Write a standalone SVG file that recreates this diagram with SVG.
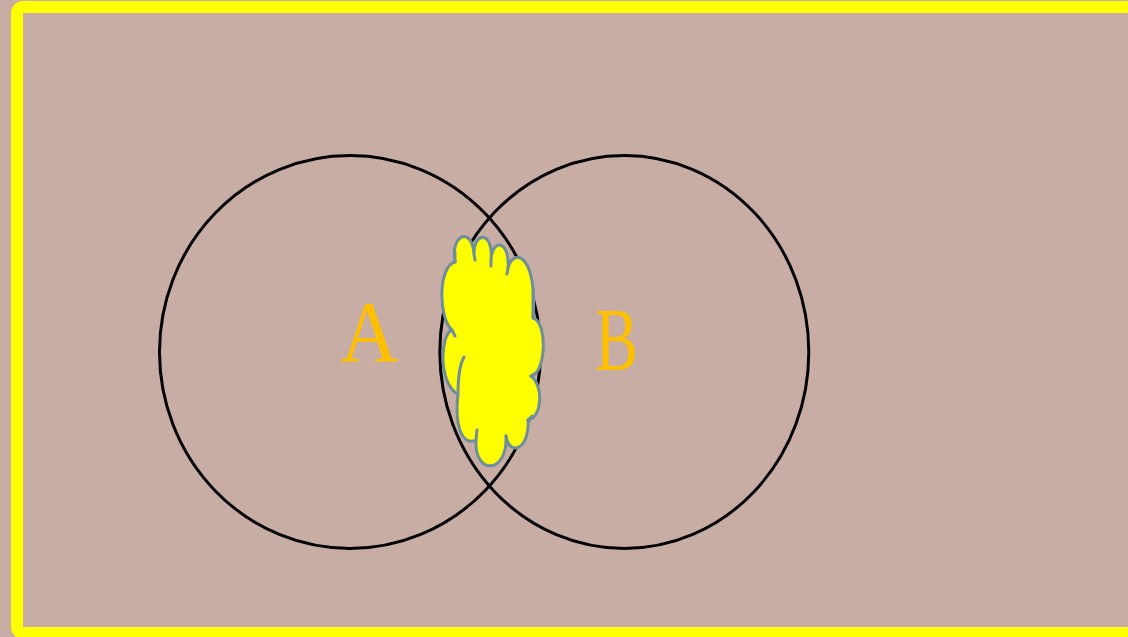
<svg xmlns="http://www.w3.org/2000/svg" width="1128" height="637" viewBox="0 0 1128 637">
<style>
.set{fill:none;stroke:#000;stroke-width:3}
.lbl{font-family:"Liberation Serif","Times New Roman",serif;fill:#ffc000;text-anchor:middle}
.cloud{fill:#ffff00;stroke:#6f8e9b;stroke-width:3;stroke-linejoin:round}
.tick{fill:none;stroke:#6f8e9b;stroke-width:3;stroke-linecap:round}
</style>
<rect x="0" y="0" width="1128" height="637" fill="#c8ada4"/>
<rect id="frame" x="17" y="7" width="1120" height="626" rx="6" fill="#c8ada4" stroke="#ffff00" stroke-width="12"/>
<g id="setA">
<ellipse class="set" cx="350" cy="352" rx="190.5" ry="196.5"/>
<text class="lbl" font-size="87" transform="translate(369.5,361) scale(0.92,1)">A</text>
</g>
<g id="setB">
<ellipse class="set" cx="624.3" cy="352" rx="184.5" ry="196.5"/>
<text class="lbl" font-size="89" transform="translate(616.5,369) scale(0.72,1)">B</text>
</g>
<g id="intersection">
<path class="cloud" d="M455,262 C450,234 472,226 474,254 C474,230 494,232 491,260 C492,238 510,240 508,268 C514,246 538,256 533,318 C548,322 546,374 531,376 C544,386 542,418 528,420 C530,448 510,458 506,436 C508,474 474,476 476,440 C464,446 454,430 458,394 C438,384 440,334 452,330 C438,318 438,266 455,262 Z"/>
<path class="tick" d="M455,262 L455,252 M474,254 L475,260 M491,260 L491,266 M508,268 L507,274 M533,318 L533,290 M452,330 L455,336 M464,357 C459,366 458,380 458,394 M531,376 L536,373 M528,420 L532,416 M506,436 L507,445 M476,440 L477,430"/>
</g>
</svg>
